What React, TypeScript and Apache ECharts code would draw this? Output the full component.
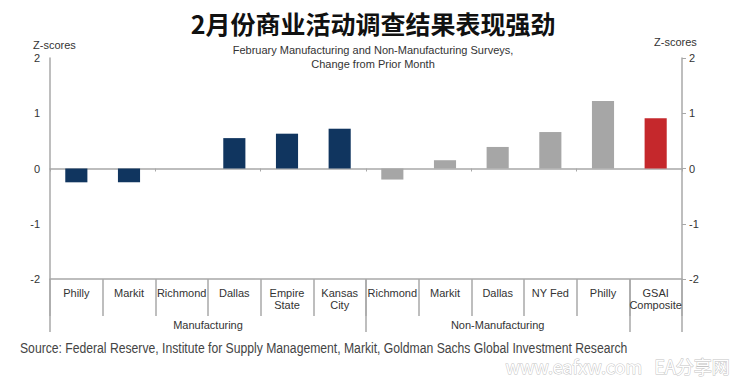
import React, { useEffect, useRef } from "react";
import * as echarts from "echarts";

const categories = [
  "Philly", "Markit", "Richmond", "Dallas", "Empire\nState", "Kansas\nCity",
  "Richmond", "Markit", "Dallas", "NY Fed", "Philly", "GSAI\nComposite",
];
const values = [-0.25, -0.25, 0, 0.55, 0.63, 0.72, -0.2, 0.15, 0.39, 0.66, 1.22, 0.91];
const groupOf = ["mfg", "mfg", "mfg", "mfg", "mfg", "mfg", "non", "non", "non", "non", "non", "gsai"];
const groupBoundaries = [0, 6, 11, 12];
const groupLabelPositions = [3, 8.5];
const groupLabels = ["Manufacturing", "Non-Manufacturing"];
const yTicks = [-2, -1, 0, 1, 2];

const COLORS: Record<string, string> = { mfg: "#10355f", non: "#a6a6a6", gsai: "#c5282c" };
const AXIS = "#a8a8a8";
const TXT = "#333333";
const FONT = "'Liberation Sans', Arial, sans-serif";

export default function App() {
  const ref = useRef<HTMLDivElement>(null);
  useEffect(() => {
    if (!ref.current) return;
    const chart = echarts.init(ref.current, null, { renderer: "svg" });
    const yAxisCommon = {
      type: "value" as const,
      min: yTicks[0],
      max: yTicks[yTicks.length - 1],
      interval: 1,
      splitLine: { show: false },
      axisLine: { show: true, lineStyle: { color: AXIS, width: 1.5 } },
      axisLabel: { color: TXT, fontSize: 11, fontFamily: FONT, margin: 10 },
    };
    chart.setOption({
      animation: false,
      backgroundColor: "#ffffff",
      title: [
        {
          text: "2月份商业活动调查结果表现强劲",
          left: 368,
          top: 5,
          textAlign: "center",
          textStyle: { fontSize: 25, fontWeight: "bold", color: "#111", fontFamily: "'Noto Sans CJK SC', sans-serif" },
        },
        {
          text: "February Manufacturing and Non-Manufacturing Surveys,\nChange from Prior Month",
          left: 368,
          top: 38,
          textAlign: "center",
          textStyle: { fontSize: 11, fontWeight: "normal", color: TXT, fontFamily: FONT, lineHeight: 14 },
        },
      ],
      grid: { left: 50, right: 68, top: 58, bottom: 98 },
      yAxis: [
        { ...yAxisCommon, position: "left", axisTick: { show: false } },
        {
          ...yAxisCommon,
          position: "right",
          axisTick: { show: true, length: 4, lineStyle: { color: AXIS } },
          axisLabel: { ...yAxisCommon.axisLabel, margin: 7 },
        },
      ],
      xAxis: [
        {
          type: "category",
          data: categories,
          position: "bottom",
          axisLine: { onZero: true, lineStyle: { color: AXIS, width: 1.5 } },
          axisTick: { show: true, length: 3, lineStyle: { color: AXIS } },
          axisLabel: { show: false },
        },
        {
          type: "category",
          data: categories,
          position: "bottom",
          axisLine: { onZero: false, lineStyle: { color: AXIS, width: 1.5 } },
          axisTick: { show: true, length: 37, lineStyle: { color: AXIS, width: 1.5 } },
          axisLabel: { color: TXT, fontSize: 11, fontFamily: FONT, margin: 8, lineHeight: 12, interval: 0 },
        },
        {
          type: "value",
          min: 0,
          max: 12,
          position: "bottom",
          splitLine: { show: false },
          axisLine: { show: false, onZero: false },
          axisTick: { show: true, length: 53, customValues: groupBoundaries, lineStyle: { color: AXIS, width: 1.5 } },
          axisLabel: {
            customValues: groupLabelPositions,
            color: TXT,
            fontSize: 11,
            fontFamily: FONT,
            margin: 40,
            formatter: (v: number) => groupLabels[groupLabelPositions.indexOf(v)] ?? "",
          },
        },
      ],
      series: [
        {
          type: "bar",
          xAxisIndex: 0,
          yAxisIndex: 0,
          barWidth: "42%",
          data: values.map((v, i) => ({ value: v, itemStyle: { color: COLORS[groupOf[i]] } })),
        },
      ],
      graphic: [
        { type: "text", left: 33, top: 39, style: { text: "Z-scores", fontSize: 11, fontFamily: FONT, fill: TXT } },
        { type: "text", left: 654, top: 36, style: { text: "Z-scores", fontSize: 11, fontFamily: FONT, fill: TXT } },
        {
          type: "text",
          x: 20,
          y: 341,
          scaleX: 0.87,
          style: {
            text: "Source: Federal Reserve, Institute for Supply Management, Markit, Goldman Sachs Global Investment Research",
            fontSize: 14,
            fontFamily: FONT,
            fill: "#444",
          },
        },
        {
          type: "text",
          left: 505,
          top: 356,
          style: {
            text: "www.eafxw.com   EA分享网",
            fontSize: 18,
            fontFamily: "'Noto Sans CJK SC', sans-serif",
            fill: "#ffffff",
            stroke: "#c4c4c4",
            lineWidth: 1,
          },
        },
      ],
    });
    return () => chart.dispose();
  }, []);
  return <div ref={ref} style={{ position: "fixed", left: 0, top: 0, width: 750, height: 377 }} />;
}
